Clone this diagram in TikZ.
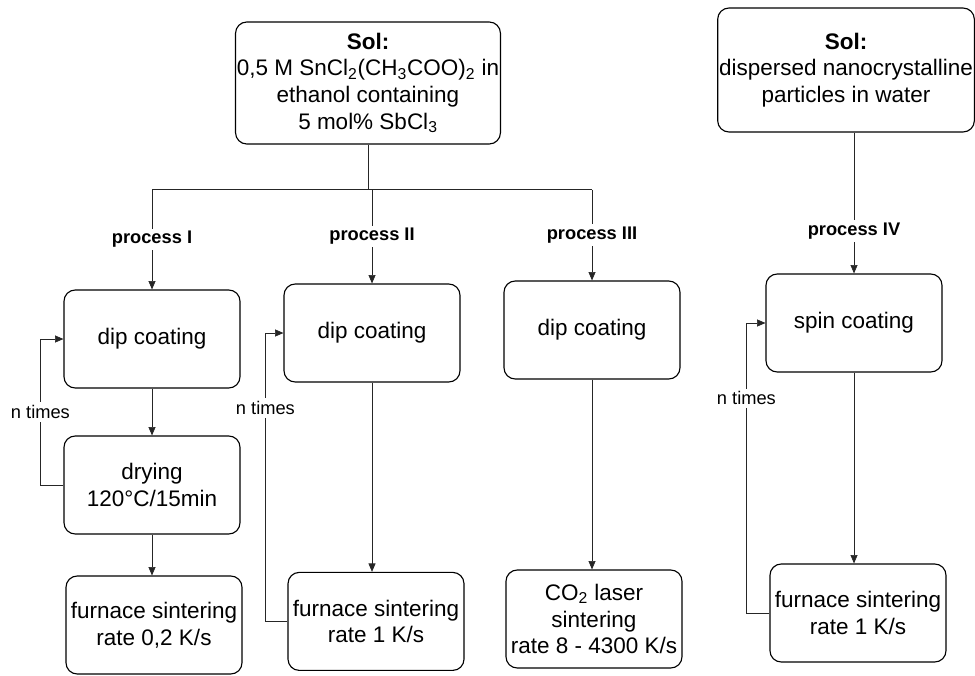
\documentclass[tikz,border=0pt]{standalone}
\usepackage{fontspec}
\setmainfont{Liberation Sans}
\usetikzlibrary{arrows.meta, positioning, calc}
\tikzset{
  myarr/.style   = {-{Triangle[length=6pt, width=5pt]}, line width=0.5pt, draw=black!85},
  plainln/.style = {line width=0.5pt, draw=black!85},
  %% Box presets
  stepbox/.style = {draw, line width=0.8pt, rounded corners=8pt, align=center,
                    minimum width=4.4cm, minimum height=2.45cm, inner sep=1pt,
                    font=\fontsize{16}{19}\selectfont},
  solbox/.style  = {stepbox, minimum height=3.05cm},
  plabel/.style  = {fill=white, inner sep=2pt, font=\fontsize{13}{15}\selectfont\bfseries},
  nlabel/.style  = {fill=white, inner sep=2pt, font=\fontsize{13}{15}\selectfont},
}

\begin{document}
\begin{tikzpicture}[line width=0.5pt]
\useasboundingbox (0,0) rectangle (24.375,16.875);

%% ---- Sols ----
\node[solbox, minimum width=6.575cm] (sol1) at (9.2, 14.8) {
  \textbf{Sol:}\\
  0,5 M SnCl\textsubscript{2}(CH\textsubscript{3}COO)\textsubscript{2} in\\
  ethanol containing\\
  5 mol\% SbCl\textsubscript{3}
};
\node[solbox, minimum width=6.4cm, minimum height=3.1cm] (sol2) at (21.15, 15.125) {
  \textbf{Sol:}\\
  dispersed nanocrystalline\\
  particles in water
};

%% ---- process I ----
\node[stepbox] (dip1)  at (3.8, 8.4)  {dip coating};
\node[stepbox] (dry1)  at (3.8, 4.75) {drying\\120°C/15min};
\node[stepbox] (furn1) at (3.85, 1.25) {furnace sintering\\rate 0,2 K/s};

%% ---- process II ----
\node[stepbox] (dip2)  at (9.3, 8.55) {dip coating};
\node[stepbox] (furn2) at (9.4, 1.34) {furnace sintering\\rate 1 K/s};

%% ---- process III ----
\node[stepbox] (dip3) at (14.8, 8.625) {dip coating};
\node[stepbox] (co2)  at (14.85, 1.4)  {CO\textsubscript{2} laser\\sintering\\rate 8 - 4300 K/s};

%% ---- process IV ----
\node[stepbox] (spin)  at (21.35, 8.8)  {spin coating};
\node[stepbox] (furn4) at (21.45, 1.55) {furnace sintering\\rate 1 K/s};

%% Split of the first sol into three routes
\coordinate (bus)  at ($(sol1.south)+(0,-1.125)$);
\coordinate (busL) at (dip1.north |- bus);
\coordinate (busM) at (dip2.north |- bus);
\coordinate (busR) at (dip3.north |- bus);
\draw[plainln] (sol1.south) -- (bus);
\draw[plainln] (busL) -- (busR);

\draw[myarr] (busL) -- node[plabel] {process I}   (dip1.north);
\draw[myarr] (busM) -- node[plabel] {process II}  (dip2.north);
\draw[myarr] (busR) -- node[plabel] {process III} (dip3.north);
\draw[myarr] (spin.north |- sol2.south) -- node[plabel, pos=0.7] {process IV} (spin.north);

%% Steps down each column
\draw[myarr] (dip1) -- (dry1);
\draw[myarr] (dry1.south) -- (dry1.south |- furn1.north);
\draw[myarr] (dip2.south) -- (dip2.south |- furn2.north);
\draw[myarr] (dip3.south) -- (dip3.south |- co2.north);
\draw[myarr] (spin.south) -- (spin.south |- furn4.north);

%% Repeat loops (n times)
\draw[myarr] (dry1.west)  -- ++(-0.575,0) |- node[nlabel, pos=0.25] {n times} (dip1.west);
\draw[myarr] (furn2.west) -- ++(-0.55,0)  |- node[nlabel, pos=0.37] {n times} (dip2.west);
\draw[myarr] (furn4.west) -- ++(-0.575,0) |- node[nlabel, pos=0.37] {n times} (spin.west);

\end{tikzpicture}
\end{document}
